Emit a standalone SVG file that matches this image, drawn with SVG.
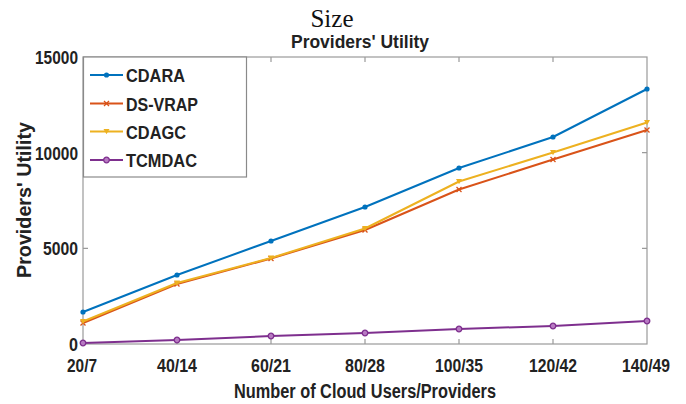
<svg xmlns="http://www.w3.org/2000/svg" xmlns:xlink="http://www.w3.org/1999/xlink" width="686" height="404" viewBox="0 0 686 404">
<style>
.lbl{font-family:"Liberation Sans",Arial,sans-serif;font-weight:bold;fill:#222}
.tk{font-size:19px}
.ax{stroke:#9a9a9a;stroke-width:1.2;fill:none}
.ser{fill:none;stroke-width:2;stroke-linejoin:round}
</style>
<defs>
<symbol id="mDot" overflow="visible"><circle r="2.6" fill="#0072BD"/></symbol>
<symbol id="mX" overflow="visible"><path d="M-2.5,-2.5L2.5,2.5M-2.5,2.5L2.5,-2.5" stroke="#D95319" stroke-width="1.3"/></symbol>
<symbol id="mTri" overflow="visible"><path d="M-3,-2.5L3,-2.5L0,2.8Z" fill="#EDB120"/></symbol>
<symbol id="mCirc" overflow="visible"><circle r="2.8" fill="#b77ac2" stroke="#7E2F8E" stroke-width="1.3"/></symbol>
</defs>
<rect width="686" height="404" fill="#ffffff"/>

<g id="titles">
<text x="332" y="27" font-family="'Liberation Serif','Times New Roman',serif" font-size="25" text-anchor="middle" fill="#111">Size</text>
<text class="lbl" x="360" y="47.5" font-size="19" text-anchor="middle" textLength="138" lengthAdjust="spacingAndGlyphs">Providers' Utility</text>
</g>

<g id="axes">
<rect class="ax" x="83" y="57" width="564" height="287"/>
<path class="ax" d="M177,344v-5M271,344v-5M365,344v-5M459,344v-5M553,344v-5M271,57v5M365,57v5M459,57v5M553,57v5M83,248.3h5M83,152.7h5M647,248.3h-5M647,152.7h-5"/>
</g>

<g id="yticks" class="lbl tk" text-anchor="end">
<text x="78" y="64" textLength="43" lengthAdjust="spacingAndGlyphs">15000</text>
<text x="78" y="160" textLength="43" lengthAdjust="spacingAndGlyphs">10000</text>
<text x="78" y="255" textLength="35" lengthAdjust="spacingAndGlyphs">5000</text>
<text x="78" y="351" textLength="9" lengthAdjust="spacingAndGlyphs">0</text>
</g>

<g id="xticks" class="lbl tk" text-anchor="middle">
<text x="82" y="372" textLength="30" lengthAdjust="spacingAndGlyphs">20/7</text>
<text x="177" y="372" textLength="40" lengthAdjust="spacingAndGlyphs">40/14</text>
<text x="271" y="372" textLength="40" lengthAdjust="spacingAndGlyphs">60/21</text>
<text x="365" y="372" textLength="40" lengthAdjust="spacingAndGlyphs">80/28</text>
<text x="459" y="372" textLength="48" lengthAdjust="spacingAndGlyphs">100/35</text>
<text x="553" y="372" textLength="48" lengthAdjust="spacingAndGlyphs">120/42</text>
<text x="646" y="372" textLength="48" lengthAdjust="spacingAndGlyphs">140/49</text>
</g>

<g id="axis-labels">
<text class="lbl" x="365" y="398" font-size="20" text-anchor="middle" textLength="262" lengthAdjust="spacingAndGlyphs">Number of Cloud Users/Providers</text>
<text class="lbl" transform="translate(31,200) rotate(-90)" font-size="20" text-anchor="middle" textLength="156" lengthAdjust="spacingAndGlyphs">Providers' Utility</text>
</g>

<g id="series-TCMDAC">
<polyline class="ser" stroke="#7E2F8E" points="83,343 177,340 271,336 365,333 459,329 553,326 647,321"/>
<use xlink:href="#mCirc" x="83" y="343"/><use xlink:href="#mCirc" x="177" y="340"/><use xlink:href="#mCirc" x="271" y="336"/><use xlink:href="#mCirc" x="365" y="333"/><use xlink:href="#mCirc" x="459" y="329"/><use xlink:href="#mCirc" x="553" y="326"/><use xlink:href="#mCirc" x="647" y="321"/>
</g>
<g id="series-DS-VRAP">
<polyline class="ser" stroke="#D95319" points="83,323 177,284 271,258.5 365,230 459,189.5 553,159.5 647,130"/>
<use xlink:href="#mX" x="83" y="323"/><use xlink:href="#mX" x="177" y="284"/><use xlink:href="#mX" x="271" y="258.5"/><use xlink:href="#mX" x="365" y="230"/><use xlink:href="#mX" x="459" y="189.5"/><use xlink:href="#mX" x="553" y="159.5"/><use xlink:href="#mX" x="647" y="130"/>
</g>
<g id="series-CDAGC">
<polyline class="ser" stroke="#EDB120" points="83,321.5 177,283 271,258 365,228.5 459,181.5 553,152.5 647,122.5"/>
<use xlink:href="#mTri" x="83" y="321.5"/><use xlink:href="#mTri" x="177" y="283"/><use xlink:href="#mTri" x="271" y="258"/><use xlink:href="#mTri" x="365" y="228.5"/><use xlink:href="#mTri" x="459" y="181.5"/><use xlink:href="#mTri" x="553" y="152.5"/><use xlink:href="#mTri" x="647" y="122.5"/>
</g>
<g id="series-CDARA">
<polyline class="ser" stroke="#0072BD" points="83,312 177,275 271,241 365,207 459,168 553,137 647,89"/>
<use xlink:href="#mDot" x="83" y="312"/><use xlink:href="#mDot" x="177" y="275"/><use xlink:href="#mDot" x="271" y="241"/><use xlink:href="#mDot" x="365" y="207"/><use xlink:href="#mDot" x="459" y="168"/><use xlink:href="#mDot" x="553" y="137"/><use xlink:href="#mDot" x="647" y="89"/>
</g>

<g id="legend">
<rect x="83.5" y="57" width="163" height="120" fill="#ffffff" stroke="#8a8a8a" stroke-width="1.2"/>
<line x1="90" y1="75" x2="123" y2="75" stroke="#0072BD" stroke-width="2"/><use xlink:href="#mDot" x="106.5" y="75"/>
<text class="lbl" x="126" y="82" font-size="19" textLength="59" lengthAdjust="spacingAndGlyphs">CDARA</text>
<line x1="90" y1="103.5" x2="123" y2="103.5" stroke="#D95319" stroke-width="2"/><use xlink:href="#mX" x="106.5" y="103.5"/>
<text class="lbl" x="126" y="110.5" font-size="19" textLength="72" lengthAdjust="spacingAndGlyphs">DS-VRAP</text>
<line x1="90" y1="131.5" x2="123" y2="131.5" stroke="#EDB120" stroke-width="2"/><use xlink:href="#mTri" x="106.5" y="131.5"/>
<text class="lbl" x="126" y="138.5" font-size="19" textLength="60" lengthAdjust="spacingAndGlyphs">CDAGC</text>
<line x1="90" y1="160" x2="123" y2="160" stroke="#7E2F8E" stroke-width="2"/><use xlink:href="#mCirc" x="106.5" y="160"/>
<text class="lbl" x="126" y="167" font-size="19" textLength="71" lengthAdjust="spacingAndGlyphs">TCMDAC</text>
</g>
</svg>
